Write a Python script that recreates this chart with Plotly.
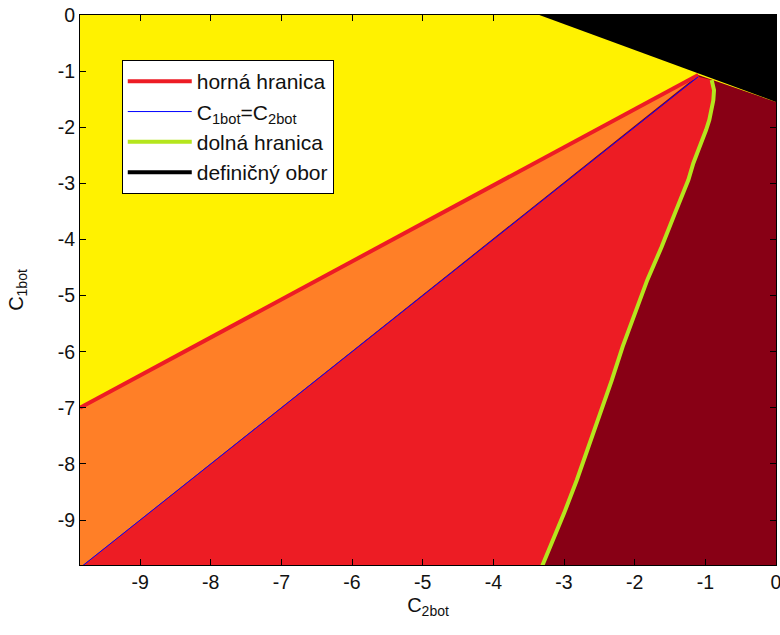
import plotly.graph_objects as go

# ---- data ----
# upper boundary "horná hranica" (straight line)
upper_x = [-9.85, -1.10]
upper_y = [-7.00, -1.07]
# diagonal C1bot = C2bot
diag_x = [-9.85, -1.10]
diag_y = [-9.85, -1.10]
# lower boundary "dolná hranica" (curve)
lower_x = [-0.91, -0.877, -0.887, -0.91, -0.944, -0.99, -1.05, -1.10, -1.17, -1.241,
           -1.429, -1.618, -1.821, -1.995, -2.170, -2.325, -2.486, -2.656, -2.82, -3.00, -3.32]
lower_y = [-1.16, -1.34, -1.52, -1.69, -1.87, -2.05, -2.23, -2.41, -2.64, -2.94,
           -3.53, -4.13, -4.72, -5.32, -5.91, -6.51, -7.10, -7.70, -8.29, -8.88, -9.85]
# edge of the domain "definičný obor" (black region above it)
domain_x = [-3.35, 0.0]
domain_y = [0.0, -1.55]

x_ticks = [-9, -8, -7, -6, -5, -4, -3, -2, -1, 0]
y_ticks = [0, -1, -2, -3, -4, -5, -6, -7, -8, -9]

X_MIN, Y_MIN = -9.85, -9.80

C_YELLOW = "#FFF200"
C_ORANGE = "#FF7F27"
C_RED = "#ED1C24"
C_DARKRED = "#880015"
C_LIME = "#B5E61D"
C_BLUE = "#0000FF"
C_BLACK = "#000000"

fig = go.Figure()

def region(xs, ys, color):
    fig.add_trace(go.Scatter(x=xs, y=ys, mode="lines", fill="toself", fillcolor=color,
                             line=dict(width=0, color=color), showlegend=False,
                             hoverinfo="skip"))

# yellow region (above the upper boundary, black covers the domain edge part)
region([upper_x[0], domain_x[0], domain_x[1], domain_x[1], upper_x[-1], upper_x[0]],
       [0.0, domain_y[0], 0.0, domain_y[1], upper_y[-1], upper_y[0]], C_YELLOW)
# orange region (between upper boundary and diagonal)
region([upper_x[0], upper_x[-1], diag_x[0], upper_x[0]],
       [upper_y[0], upper_y[-1], diag_y[0], upper_y[0]], C_ORANGE)
# red region (between diagonal and lower boundary)
region([diag_x[0], diag_x[-1]] + lower_x + [diag_x[0]],
       [diag_y[0], diag_y[-1]] + lower_y + [diag_y[0]], C_RED)
# black region (outside the domain)
region([domain_x[0], domain_x[1], domain_x[1], domain_x[0]],
       [domain_y[0], 0.0, domain_y[1], domain_y[0]], C_BLACK)

# boundary lines
fig.add_trace(go.Scatter(x=upper_x, y=upper_y, mode="lines",
                         line=dict(color=C_RED, width=4), name="horná hranica"))
fig.add_trace(go.Scatter(x=diag_x, y=diag_y, mode="lines",
                         line=dict(color=C_BLUE, width=1),
                         name="C<sub>1bot</sub>=C<sub>2bot</sub>"))
fig.add_trace(go.Scatter(x=lower_x, y=lower_y, mode="lines",
                         line=dict(color=C_LIME, width=4), name="dolná hranica"))
fig.add_trace(go.Scatter(x=[None], y=[None], mode="lines",
                         line=dict(color=C_BLACK, width=4), name="definičný obor"))

FONT = "Liberation Sans, Arial, sans-serif"
axis_common = dict(showgrid=False, zeroline=False, showline=True, linecolor="black",
                   linewidth=1, mirror="ticks", ticks="inside", ticklen=6,
                   tickcolor="black", ticklabeloverflow="allow", automargin=False,
                   tickfont=dict(family=FONT, size=19.5, color="#111"))

fig.update_layout(
    width=780, height=635,
    margin=dict(l=80, r=4, t=15, b=70),
    paper_bgcolor="white", plot_bgcolor=C_DARKRED,
    font=dict(family=FONT, color="#111"),
    xaxis=dict(range=[X_MIN, 0], tickvals=x_ticks, ticktext=[str(v) for v in x_ticks],
               title=dict(text="C<sub>2bot</sub>", font=dict(family=FONT, size=20), standoff=5),
               **axis_common),
    yaxis=dict(range=[Y_MIN, 0], tickvals=y_ticks, ticktext=[str(v) for v in y_ticks],
               title=dict(text="C<sub>1bot</sub>", font=dict(family=FONT, size=20), standoff=28),
               **axis_common),
    legend=dict(x=0.06, y=0.918, xanchor="left", yanchor="top",
                bgcolor="white", bordercolor="black", borderwidth=1,
                font=dict(family=FONT, size=21, color="#111"),
                itemwidth=64, tracegroupgap=0),
    showlegend=True,
)

fig.write_html("out.html")
